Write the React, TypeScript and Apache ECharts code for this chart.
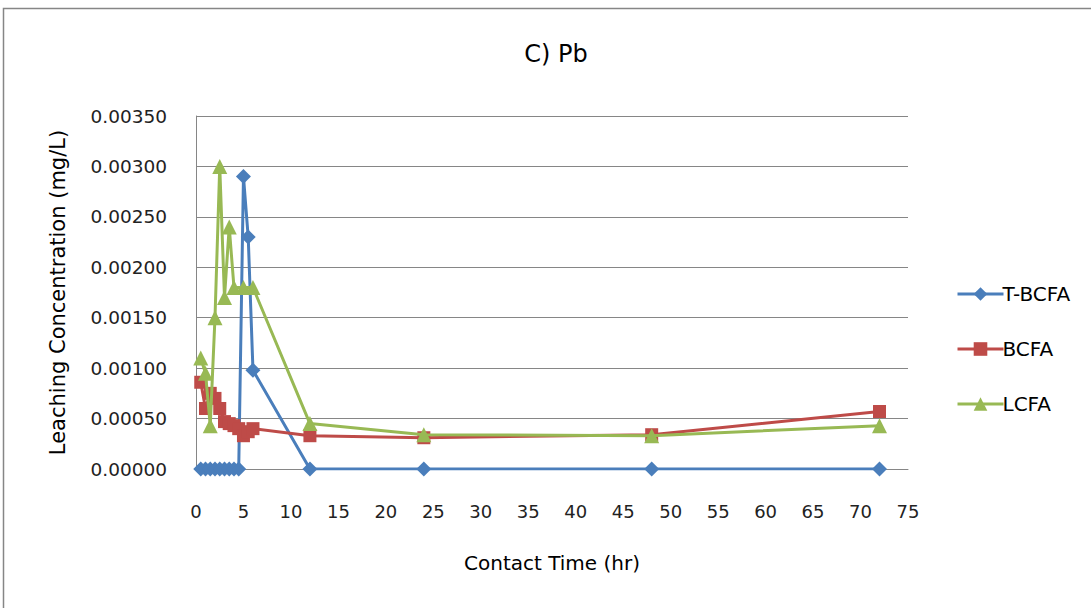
import React, { useEffect, useRef } from "react";
import * as echarts from "echarts";

const xTicks = [0, 5, 10, 15, 20, 25, 30, 35, 40, 45, 50, 55, 60, 65, 70, 75];

const tbcfaTime = [0.5, 1, 1.5, 2, 2.5, 3, 3.5, 4, 4.5, 5, 5.5, 6, 12, 24, 48, 72];
const tbcfaValues = [0, 0, 0, 0, 0, 0, 0, 0, 0, 0.0029, 0.0023, 0.00098, 0, 0, 0, 0];

const bcfaTime = [0.5, 1, 1.5, 2, 2.5, 3, 3.5, 4, 4.5, 5, 5.5, 6, 12, 24, 48, 72];
const bcfaValues = [0.00086, 0.0006, 0.00075, 0.0007, 0.0006, 0.00047, 0.00045, 0.00043, 0.0004, 0.00033, 0.00037, 0.0004, 0.00033, 0.00031, 0.00034, 0.00057];

const lcfaTime = [0.5, 1, 1.5, 2, 2.5, 3, 3.5, 4, 5, 6, 12, 24, 48, 72];
const lcfaValues = [0.0011, 0.00095, 0.00043, 0.0015, 0.003, 0.0017, 0.0024, 0.0018, 0.0018, 0.0018, 0.00045, 0.00034, 0.00033, 0.00043];

const pair = (xs: number[], ys: number[]) => xs.map((x, i) => [x, ys[i]]);

export default function App() {
  const ref = useRef<HTMLDivElement>(null);
  useEffect(() => {
    document.body.style.margin = "0";
    const chart = echarts.init(ref.current!, undefined, { renderer: "svg" });
    const font = "'DejaVu Sans', 'Noto Sans', sans-serif";
    chart.setOption({
      animation: false,
      backgroundColor: "#ffffff",
      textStyle: { fontFamily: font },
      title: {
        text: "C) Pb",
        left: 551,
        top: 37,
        textAlign: "center",
        textStyle: { fontSize: 24, fontWeight: "normal", color: "#000", fontFamily: font },
      },
      graphic: [
        {
          type: "rect",
          shape: { x: 3.5, y: 8.5, width: 1100, height: 620 },
          style: { fill: "none", stroke: "#868686", lineWidth: 1.5 },
          silent: true,
        },
      ],
      grid: { left: 196, right: 183, top: 116, bottom: 139 },
      legend: {
        orient: "vertical",
        left: 951,
        top: 279,
        itemGap: 35,
        itemWidth: 46,
        itemHeight: 17,
        lineStyle: { width: 3 },
        textStyle: { fontSize: 20, color: "#000", fontFamily: font, padding: [0, 0, 0, -6] },
        data: ["T-BCFA", "BCFA", "LCFA"],
      },
      xAxis: {
        type: "value",
        min: 0,
        max: 75,
        interval: 5,
        name: "Contact Time (hr)",
        nameLocation: "middle",
        nameGap: 84,
        nameTextStyle: { fontSize: 20, color: "#000", fontFamily: font },
        axisLine: { show: true, lineStyle: { color: "#868686", width: 1 } },
        axisTick: { show: false },
        splitLine: { show: false },
        axisLabel: {
          fontSize: 18,
          color: "#222",
          margin: 33,
          formatter: (v: number) => (xTicks.includes(v) ? String(v) : ""),
        },
      },
      yAxis: {
        type: "value",
        min: 0,
        max: 0.0035,
        interval: 0.0005,
        name: "Leaching Concentration (mg/L)",
        nameLocation: "middle",
        nameGap: 128,
        nameTextStyle: { fontSize: 21, color: "#000", fontFamily: font },
        axisLine: { show: true, lineStyle: { color: "#868686", width: 1 } },
        axisTick: { show: false },
        splitLine: { show: true, lineStyle: { color: "#868686", width: 1 } },
        axisLabel: {
          fontSize: 18.5,
          color: "#222",
          margin: 29,
          formatter: (v: number) => v.toFixed(5),
        },
      },
      series: [
        {
          name: "T-BCFA",
          type: "line",
          data: pair(tbcfaTime, tbcfaValues),
          symbol: "diamond",
          symbolSize: 15,
          color: "#4A7EBB",
          lineStyle: { width: 3, color: "#4A7EBB" },
          itemStyle: { color: "#4A7EBB" },
          z: 3,
        },
        {
          name: "BCFA",
          type: "line",
          data: pair(bcfaTime, bcfaValues),
          symbol: "rect",
          symbolSize: 13,
          color: "#BE4B48",
          lineStyle: { width: 3, color: "#BE4B48" },
          itemStyle: { color: "#BE4B48" },
          z: 4,
        },
        {
          name: "LCFA",
          type: "line",
          data: pair(lcfaTime, lcfaValues),
          symbol: "triangle",
          symbolSize: 15,
          color: "#98B954",
          lineStyle: { width: 3, color: "#98B954" },
          itemStyle: { color: "#98B954" },
          z: 5,
        },
      ],
    });
    return () => chart.dispose();
  }, []);
  return <div ref={ref} style={{ width: 1091, height: 608 }} />;
}
